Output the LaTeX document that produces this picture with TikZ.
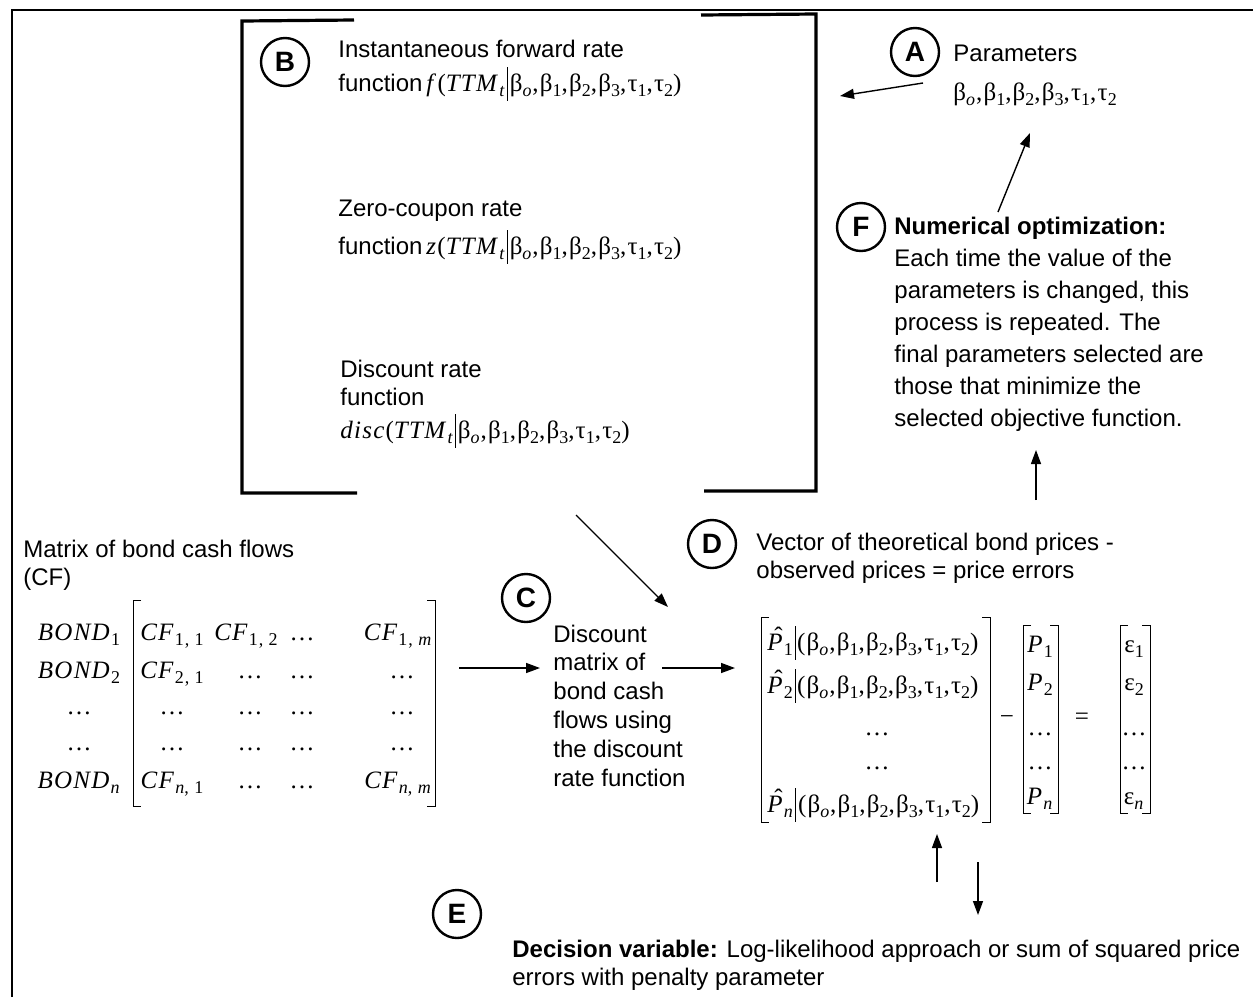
\documentclass[tikz,border=0pt]{standalone}
\usepackage{fontspec}
\setmainfont{Liberation Sans}
\newfontfamily\tms[LetterSpace=5]{Liberation Serif}
\usetikzlibrary{arrows.meta}
\tikzset{>={Triangle[length=7pt,width=5pt]}}
\newcommand{\lo}[1]{\raisebox{-0.45ex}{\fontsize{9}{9}\selectfont #1}}
\newcommand{\gv}{\hspace{0.8pt}\raisebox{-0.38em}{\rule{0.5pt}{1.35em}}\hspace{0.8pt}}
\newcommand{\pars}{β\lo{\textit{o}},β\lo{1},β\lo{2},β\lo{3},τ\lo{1},τ\lo{2}}
\newcommand{\ttm}{\textit{TTM}\lo{\textit{t}}}
\newcommand{\cf}[1]{\textit{CF}\lo{#1}}
\newcommand{\phat}{\textit{P}\llap{\raisebox{0.24em}{ˆ}\hspace{0.6pt}}}
\newcommand{\brak}[4]{%
  \draw[brk] (#1+8,#3) -- (#1,#3) -- (#1,#4) -- (#1+8,#4);
  \draw[brk] (#2-8,#3) -- (#2,#3) -- (#2,#4) -- (#2-8,#4);}

\begin{document}
\begin{tikzpicture}[x=0.5pt,y=-0.5pt,
  lbl/.style={draw,circle,line width=1.2pt,minimum size=24pt,inner sep=0pt,font=\bfseries\fontsize{14}{14}\selectfont},
  txt/.style={anchor=base west,inner sep=0pt,align=left,font=\fontsize{12}{14}\selectfont},
  mth/.style={anchor=base,inner sep=0pt,font=\tms\fontsize{12.5}{12.5}\selectfont},
  arr/.style={->,line width=0.7pt},
  brk/.style={line width=0.5pt}]
\useasboundingbox (0,0) rectangle (1253,997);

% frame
\draw[line width=1.2pt] (12,997) -- (12,10) -- (1253,10);

% B: rate functions
\draw[line width=1.6pt] (354,20) -- (242,21) -- (242,493) -- (357,493);
\draw[line width=1.6pt] (701,15) -- (816,14) -- (816,491) -- (704,491);
\node[lbl] (B) at (285,62) {B};
\node[txt] (fwd) at (338,91) {Instantaneous forward rate\\[3pt]function\,{\tms\fontsize{12.5}{12.5}\selectfont\textit{f}(\ttm\gv\pars)}};
\node[txt] (zero) at (338,254) {Zero-coupon rate\\[3pt]function\,{\tms\fontsize{12.5}{12.5}\selectfont\textit{z}(\ttm\gv\pars)}};
\node[txt] (disc) at (340,405) {Discount rate\\function};
\node[mth,anchor=base west] (dfun) at (340,438) {\textit{disc}(\ttm\gv\pars)};

% A: parameters
\node[lbl] (A) at (915,52) {A};
\node[txt] (par) at (953,61) {Parameters};
\node[mth,anchor=base west] (parv) at (953,100) {\pars};
\coordinate (aOut) at (923,83);
\coordinate (bIn) at (840,96);
\draw[arr] (aOut) -- (bIn);

% F: optimization
\node[lbl] (F) at (861,227) {F};
\node[txt,font=\fontsize{12}{16}\selectfont] (opt) at (894,426) {\textbf{Numerical optimization:}\\Each time the value of the\\parameters is changed, this\\process is repeated. The\\final parameters selected are\\those that minimize the\\selected objective function.};
\coordinate (fOut) at (998,212);
\coordinate (aIn) at (1030,133);
\draw[arr] (fOut) -- (aIn);
\coordinate (dOut) at (1036,500);
\coordinate (fIn) at (1036,450);
\draw[arr] (dOut) -- (fIn);

% D: price errors
\node[lbl] (D) at (712,544) {D};
\node[txt] (vec) at (756,578) {Vector of theoretical bond prices -\\observed prices = price errors};

% cash flow matrix
\node[txt] (mat) at (23,585) {Matrix of bond cash flows\\(CF)};
\foreach \y/\t [count=\i] in {640/{\textit{BOND}\lo{1}}, 678/{\textit{BOND}\lo{2}}, 714/…, 750/…, 788/{\textit{BOND}\lo{\textit{n}}}}
  \node[mth] (bond\i) at (79,\y) {\t};
\foreach \x/\y/\t [count=\i] in {172/640/{\cf{1, 1}}, 246/640/{\cf{1, 2}}, 398/640/{\cf{1, \textit{m}}}, 172/678/{\cf{2, 1}}, 172/788/{\cf{\textit{n}, 1}}, 398/788/{\cf{\textit{n}, \textit{m}}}}
  \node[mth] (cf\i) at (\x,\y) {\t};
\foreach \x/\y [count=\i] in {302/640, 250/678, 302/678, 402/678, 172/714, 250/714, 302/714, 402/714, 172/750, 250/750, 302/750, 402/750, 250/788, 302/788}
  \node[mth] (dt\i) at (\x,\y) {…};
\brak{133}{435}{600}{806}

% C: discounting
\node[lbl] (C) at (526,598) {C};
\node[txt,font=\fontsize{12}{14.4}\selectfont] (dm) at (553,786) {Discount\\matrix of\\bond cash\\flows using\\the discount\\rate function};
\coordinate (cfOut) at (459,668);
\coordinate (cIn) at (540,668);
\draw[arr] (cfOut) -- (cIn);
\coordinate (cOut) at (662,668);
\coordinate (pIn) at (735,668);
\draw[arr] (cOut) -- (pIn);
\coordinate (bOut) at (576,515);
\coordinate (pTop) at (668,607);
\draw[arr] (bOut) -- (pTop);

% theoretical minus observed prices
\foreach \y/\t [count=\i] in {650/1, 693/2, 812/{\textit{n}}}
  \node[mth,anchor=base west] (ph\i) at (767,\y) {\phat\lo{\t}\gv(\pars)};
\node[mth] (phd1) at (877,735) {…};
\node[mth] (phd2) at (877,769) {…};
\brak{761}{990}{617}{822}
\node[mth] (minus) at (1007,724) {−};
\foreach \y/\t [count=\i] in {652/{\textit{P}\lo{1}}, 690/{\textit{P}\lo{2}}, 735/…, 769/…, 804/{\textit{P}\lo{\textit{n}}}}
  \node[mth] (p\i) at (1040,\y) {\t};
\brak{1023}{1058}{625}{813}
\node[mth] (eq) at (1082,724) {=};
\foreach \y/\t [count=\i] in {652/{ε\lo{1}}, 690/{ε\lo{2}}, 735/…, 769/…, 804/{ε\lo{\textit{n}}}}
  \node[mth] (e\i) at (1134,\y) {\t};
\brak{1120}{1150}{625}{813}

% E: decision variable
\coordinate (eUp1) at (937,882);
\coordinate (eUp2) at (937,834);
\draw[arr] (eUp1) -- (eUp2);
\coordinate (eDn1) at (978,862);
\coordinate (eDn2) at (978,915);
\draw[arr] (eDn1) -- (eDn2);
\node[lbl] (E) at (457,914) {E};
\node[txt] (dv) at (512,985) {\textbf{Decision variable:} Log-likelihood approach or sum of squared price\\errors with penalty parameter};
\end{tikzpicture}
\end{document}
